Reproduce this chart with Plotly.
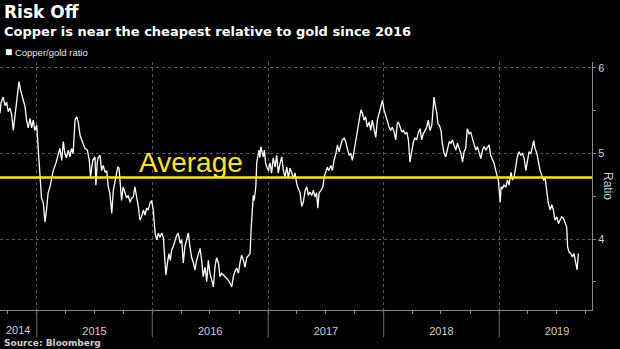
import plotly.graph_objects as go

# Copper/gold price ratio (sampled roughly every five days)
dates = [
    # 2014
    "2014-09-07", "2014-09-10", "2014-09-17", "2014-09-23", "2014-09-28", "2014-10-03",
    "2014-10-09", "2014-10-14", "2014-10-19", "2014-10-24", "2014-10-29", "2014-11-06",
    "2014-11-11", "2014-11-17", "2014-11-25", "2014-11-30", "2014-12-05", "2014-12-11",
    "2014-12-16", "2014-12-21", "2014-12-26",
    # 2015
    "2015-01-01", "2015-01-06", "2015-01-09", "2015-01-13", "2015-01-16", "2015-01-22",
    "2015-01-27", "2015-02-01", "2015-02-06", "2015-02-12", "2015-02-17", "2015-02-22",
    "2015-03-03", "2015-03-10", "2015-03-15", "2015-03-21", "2015-03-26", "2015-03-31",
    "2015-04-05", "2015-04-11", "2015-04-16", "2015-04-21", "2015-04-26", "2015-05-02",
    "2015-05-07", "2015-05-12", "2015-05-18", "2015-05-23", "2015-05-28", "2015-06-02",
    "2015-06-10", "2015-06-16", "2015-06-20", "2015-06-27", "2015-07-04", "2015-07-07",
    "2015-07-11", "2015-07-14", "2015-07-20", "2015-07-25", "2015-07-30", "2015-08-05",
    "2015-08-10", "2015-08-15", "2015-08-20", "2015-08-26", "2015-08-31", "2015-09-07",
    "2015-09-14", "2015-09-18", "2015-09-22", "2015-09-26", "2015-10-01", "2015-10-07",
    "2015-10-12", "2015-10-17", "2015-10-23", "2015-10-28", "2015-11-02", "2015-11-07",
    "2015-11-13", "2015-11-18", "2015-11-23", "2015-11-28", "2015-12-04", "2015-12-09",
    "2015-12-14", "2015-12-19", "2015-12-25", "2015-12-30",
    # 2016
    "2016-01-04", "2016-01-10", "2016-01-15", "2016-01-20", "2016-01-25", "2016-01-31",
    "2016-02-05", "2016-02-10", "2016-02-13", "2016-02-19", "2016-02-23", "2016-02-27",
    "2016-03-02", "2016-03-07", "2016-03-13", "2016-03-18", "2016-03-23", "2016-03-29",
    "2016-04-03", "2016-04-08", "2016-04-13", "2016-04-19", "2016-04-24", "2016-04-29",
    "2016-05-04", "2016-05-10", "2016-05-15", "2016-05-20", "2016-05-25", "2016-05-31",
    "2016-06-05", "2016-06-10", "2016-06-16", "2016-06-21", "2016-06-26", "2016-07-01",
    "2016-07-07", "2016-07-12", "2016-07-17", "2016-07-22", "2016-07-28", "2016-08-02",
    "2016-08-07", "2016-08-12", "2016-08-18", "2016-08-23", "2016-08-28", "2016-09-03",
    "2016-09-08", "2016-09-13", "2016-09-18", "2016-09-24", "2016-09-29", "2016-10-04",
    "2016-10-09", "2016-10-15", "2016-10-20", "2016-10-25", "2016-10-30", "2016-11-05",
    "2016-11-08", "2016-11-12", "2016-11-15", "2016-11-18", "2016-11-23", "2016-11-26",
    "2016-11-29", "2016-12-03", "2016-12-06", "2016-12-09", "2016-12-14", "2016-12-17",
    "2016-12-20", "2016-12-24", "2016-12-28",
    # 2017
    "2017-01-02", "2017-01-07", "2017-01-12", "2017-01-17", "2017-01-23", "2017-01-28",
    "2017-02-02", "2017-02-08", "2017-02-13", "2017-02-18", "2017-02-23", "2017-03-01",
    "2017-03-06", "2017-03-11", "2017-03-16", "2017-03-22", "2017-03-27", "2017-04-01",
    "2017-04-06", "2017-04-12", "2017-04-17", "2017-04-22", "2017-04-28", "2017-05-03",
    "2017-05-08", "2017-05-13", "2017-05-19", "2017-05-24", "2017-05-29", "2017-06-03",
    "2017-06-07", "2017-06-11", "2017-06-17", "2017-06-23", "2017-06-27", "2017-07-02",
    "2017-07-07", "2017-07-12", "2017-07-18", "2017-07-23", "2017-07-28", "2017-08-03",
    "2017-08-08", "2017-08-13", "2017-08-18", "2017-08-23", "2017-08-29", "2017-09-03",
    "2017-09-08", "2017-09-14", "2017-09-19", "2017-09-24", "2017-09-29", "2017-10-05",
    "2017-10-10", "2017-10-15", "2017-10-21", "2017-10-26", "2017-10-31", "2017-11-05",
    "2017-11-10", "2017-11-16", "2017-11-21", "2017-11-26", "2017-12-02", "2017-12-07",
    "2017-12-12", "2017-12-17", "2017-12-23", "2017-12-28",
    # 2018
    "2018-01-02", "2018-01-08", "2018-01-13", "2018-01-18", "2018-01-23", "2018-01-28",
    "2018-02-03", "2018-02-08", "2018-02-13", "2018-02-16", "2018-02-22", "2018-02-27",
    "2018-03-04", "2018-03-10", "2018-03-15", "2018-03-20", "2018-03-25", "2018-03-31",
    "2018-04-05", "2018-04-10", "2018-04-15", "2018-04-21", "2018-04-26", "2018-05-01",
    "2018-05-06", "2018-05-12", "2018-05-17", "2018-05-22", "2018-05-27", "2018-06-02",
    "2018-06-05", "2018-06-09", "2018-06-12", "2018-06-18", "2018-06-21", "2018-06-26",
    "2018-07-01", "2018-07-05", "2018-07-11", "2018-07-16", "2018-07-21", "2018-07-27",
    "2018-08-01", "2018-08-06", "2018-08-11", "2018-08-17", "2018-08-22", "2018-08-27",
    "2018-09-02", "2018-09-07", "2018-09-12", "2018-09-17", "2018-09-22", "2018-09-28",
    "2018-10-03", "2018-10-08", "2018-10-13", "2018-10-19", "2018-10-24", "2018-10-29",
    "2018-11-04", "2018-11-09", "2018-11-14", "2018-11-20", "2018-11-25", "2018-11-30",
    "2018-12-05", "2018-12-10", "2018-12-16", "2018-12-21", "2018-12-26", "2018-12-29",
    # 2019
    "2019-01-04", "2019-01-07", "2019-01-11", "2019-01-16", "2019-01-22", "2019-01-27",
    "2019-02-01", "2019-02-07", "2019-02-12", "2019-02-17", "2019-02-22", "2019-02-27",
    "2019-03-05", "2019-03-10", "2019-03-15", "2019-03-21", "2019-03-26", "2019-03-31",
    "2019-04-05", "2019-04-11", "2019-04-16", "2019-04-20", "2019-04-24", "2019-04-30",
    "2019-05-05", "2019-05-10", "2019-05-15", "2019-05-21", "2019-05-26", "2019-05-31",
    "2019-06-05", "2019-06-11", "2019-06-16", "2019-06-21", "2019-06-26", "2019-07-02",
    "2019-07-07", "2019-07-12", "2019-07-17", "2019-07-23", "2019-07-28", "2019-08-02",
    "2019-08-05", "2019-08-09", "2019-08-15", "2019-08-20", "2019-08-25", "2019-08-31",
    "2019-09-04", "2019-09-08",
]

ratio = [
    # 2014
    5.47, 5.59, 5.66, 5.56, 5.60, 5.49, 5.53, 5.45, 5.27, 5.43, 5.62, 5.84,
    5.74, 5.66, 5.55, 5.39, 5.30, 5.41, 5.30, 5.39, 5.27,
    # 2015
    5.33, 5.04, 4.92, 4.61, 4.48, 4.42, 4.20, 4.34, 4.54, 4.61, 4.73, 4.80,
    4.89, 5.00, 5.06, 4.92, 5.14, 5.00, 4.95, 5.04, 4.96, 5.06, 5.00, 5.39,
    5.43, 5.37, 5.21, 5.16, 5.10, 5.06, 5.04, 4.92, 4.73, 4.92, 4.96, 4.63,
    4.89, 4.95, 4.98, 4.80, 4.86, 4.78, 4.80, 4.61, 4.54, 4.30, 4.57, 4.69,
    4.84, 4.83, 4.65, 4.45, 4.61, 4.54, 4.48, 4.51, 4.43, 4.48, 4.49, 4.61,
    4.49, 4.38, 4.22, 4.26, 4.34, 4.28, 4.36, 4.34, 4.42, 4.45,
    # 2016
    4.34, 4.07, 3.99, 4.07, 4.02, 4.07, 4.02, 3.72, 3.58, 3.75, 3.83, 3.75,
    3.87, 3.91, 3.99, 4.04, 4.07, 3.95, 3.99, 3.72, 3.91, 4.02, 4.07, 3.91,
    3.79, 3.72, 3.64, 3.75, 3.83, 3.89, 3.75, 3.56, 3.67, 3.50, 3.75, 3.60,
    3.52, 3.44, 3.67, 3.78, 3.72, 3.56, 3.60, 3.58, 3.56, 3.54, 3.52, 3.48,
    3.44, 3.56, 3.62, 3.66, 3.60, 3.72, 3.81, 3.75, 3.67, 3.78, 3.81, 3.83,
    4.10, 4.42, 4.51, 4.45, 4.61, 4.89, 4.96, 5.04, 4.95, 5.08, 5.00, 4.96,
    5.04, 4.89, 4.84,
    # 2017
    4.80, 4.89, 4.77, 4.95, 4.84, 4.98, 4.77, 4.89, 4.96, 4.80, 4.73, 4.84,
    4.71, 4.83, 4.77, 4.71, 4.77, 4.65, 4.59, 4.54, 4.38, 4.43, 4.57, 4.61,
    4.51, 4.55, 4.51, 4.57, 4.49, 4.54, 4.36, 4.54, 4.57, 4.61, 4.73, 4.80,
    4.84, 4.80, 4.86, 4.80, 4.92, 5.00, 5.10, 5.02, 5.08, 5.16, 5.18, 5.14,
    5.06, 4.98, 5.00, 4.92, 5.02, 5.16, 5.25, 5.39, 5.51, 5.47, 5.39, 5.43,
    5.31, 5.37, 5.27, 5.39, 5.29, 5.19, 5.39, 5.47, 5.55, 5.62,
    # 2018
    5.51, 5.43, 5.37, 5.31, 5.27, 5.31, 5.25, 5.16, 5.35, 5.37, 5.31, 5.25,
    5.27, 5.23, 5.25, 5.16, 4.90, 5.04, 5.14, 5.18, 5.16, 5.25, 5.29, 5.16,
    5.23, 5.27, 5.31, 5.39, 5.27, 5.33, 5.47, 5.66, 5.58, 5.47, 5.35, 5.33,
    5.27, 5.12, 5.00, 4.96, 5.04, 5.14, 5.12, 5.16, 5.10, 5.04, 5.12, 5.06,
    5.00, 4.90, 5.02, 5.06, 5.29, 5.23, 5.25, 5.18, 5.12, 5.04, 5.08, 5.00,
    4.94, 5.04, 5.08, 5.04, 5.08, 5.10, 4.98, 4.94, 4.88, 4.80, 4.73, 4.69,
    # 2019
    4.43, 4.61, 4.59, 4.63, 4.61, 4.69, 4.63, 4.78, 4.69, 4.73, 4.84, 4.96,
    5.02, 4.98, 5.00, 4.94, 4.80, 4.92, 5.02, 5.00, 5.08, 5.15, 5.06, 5.00,
    4.90, 4.80, 4.75, 4.69, 4.71, 4.57, 4.42, 4.34, 4.40, 4.34, 4.22, 4.26,
    4.18, 4.22, 4.26, 4.24, 4.20, 4.14, 3.91, 3.85, 3.83, 3.79, 3.83, 3.71,
    3.64, 3.83,
]

AVERAGE = 4.72
year_starts = ["2015-01-01", "2016-01-01", "2017-01-01", "2018-01-01", "2019-01-01"]
x_range = ["2014-09-07", "2019-10-21"]
first_year_label = "2014"
first_year_mid = "2014-11-04"   # middle of the visible part of 2014
y_ticks = [4, 5, 6]
y_minor_ticks = [3.5, 4.5, 5.5]

AXIS_GREY = "#8a8a8a"
GRID_GREY = "#5a5a5a"
LABEL_GREY = "#cfcfcf"
YELLOW = "#ffe800"

fig = go.Figure()

fig.add_trace(go.Scatter(
    x=dates, y=ratio, mode="lines",
    line=dict(color="white", width=1.3),
    name="Copper/gold ratio", showlegend=False, hoverinfo="skip",
))

# long-run average
fig.add_hline(y=AVERAGE, line=dict(color=YELLOW, width=2.5), layer="above")

# year dividers running down between the year labels
for ys in year_starts:
    fig.add_shape(type="line", xref="x", yref="paper",
                  x0=ys, x1=ys, y0=0, y1=-0.11,
                  line=dict(color="#6a6a6a", width=1))

# partial first year gets its own label
fig.add_annotation(x=first_year_mid, y=-0.0806, xref="x", yref="paper",
                   text=first_year_label, showarrow=False,
                   xanchor="center", yanchor="middle",
                   font=dict(family="Liberation Sans", size=11, color=LABEL_GREY))

fig.add_annotation(x="2015-11-14", y=AVERAGE, xref="x", yref="y",
                   text="Average", showarrow=False, xanchor="left", yanchor="middle",
                   yshift=15, font=dict(family="Liberation Sans", size=28, color=YELLOW))

fig.add_annotation(x=0.003, y=1.20, xref="paper", yref="paper", text="<b>Risk Off</b>",
                   showarrow=False, xanchor="left", yanchor="middle",
                   font=dict(family="DejaVu Sans", size=17, color="white"))
fig.add_annotation(x=0.003, y=1.125, xref="paper", yref="paper",
                   text="<b>Copper is near the cheapest relative to gold since 2016</b>",
                   showarrow=False, xanchor="left", yanchor="middle",
                   font=dict(family="DejaVu Sans", size=13, color="white"))
fig.add_annotation(x=0.005, y=1.040, xref="paper", yref="paper",
                   text="<span style='color:white;font-size:12px'>■</span> Copper/gold ratio",
                   showarrow=False, xanchor="left", yanchor="middle",
                   font=dict(family="Liberation Sans", size=9.5, color="#e6e6e6"))
fig.add_annotation(x=0.004, y=-0.133, xref="paper", yref="paper",
                   text="<b>Source: Bloomberg</b>",
                   showarrow=False, xanchor="left", yanchor="middle",
                   font=dict(family="DejaVu Sans", size=9, color=LABEL_GREY))
fig.add_annotation(x=1.027, y=0.5, xref="paper", yref="paper", text="Ratio",
                   showarrow=False, textangle=90, xanchor="center", yanchor="middle",
                   font=dict(family="Liberation Sans", size=12, color=LABEL_GREY))

fig.update_layout(
    width=620, height=349,
    margin=dict(l=0, r=28, t=62, b=39),
    paper_bgcolor="black", plot_bgcolor="black",
    font=dict(family="Liberation Sans", size=11, color=LABEL_GREY),
    showlegend=False,
    xaxis=dict(
        type="date", range=x_range,
        tick0="2014-01-01", dtick="M12", tickformat="%Y", ticklabelmode="period",
        ticks="outside", ticklen=3, tickcolor=AXIS_GREY, ticklabelstandoff=8,
        tickfont=dict(size=11, color=LABEL_GREY),
        showline=True, linecolor=AXIS_GREY, linewidth=1,
        showgrid=True, gridcolor=GRID_GREY, griddash="dot", gridwidth=1,
        zeroline=False,
        minor=dict(dtick="M3", tick0="2014-01-01", ticks="outside", ticklen=3,
                   tickcolor=AXIS_GREY, showgrid=False),
    ),
    yaxis=dict(
        side="right", range=[3.17, 6.07],
        tickmode="array", tickvals=y_ticks,
        ticks="outside", ticklen=3, tickcolor=AXIS_GREY,
        tickfont=dict(size=11, color=LABEL_GREY),
        showline=True, linecolor=AXIS_GREY, linewidth=1,
        showgrid=True, gridcolor=GRID_GREY, griddash="dot", gridwidth=1,
        zeroline=False,
        minor=dict(tickmode="array", tickvals=y_minor_ticks, ticks="outside",
                   ticklen=3, tickcolor=AXIS_GREY, showgrid=False),
    ),
)

fig.write_html("out.html", config={"displayModeBar": False})
